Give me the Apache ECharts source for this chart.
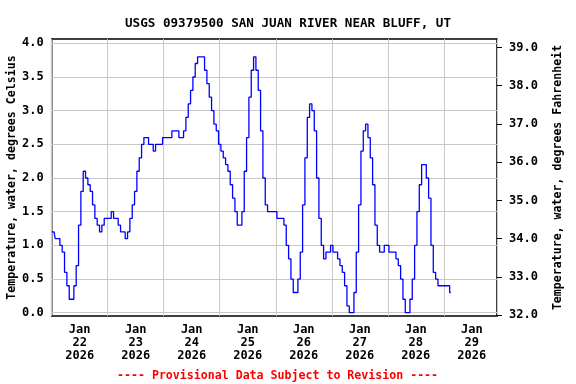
<!DOCTYPE html>
<html><head><meta charset="utf-8">
<script src="https://cdn.jsdelivr.net/npm/echarts@6/dist/echarts.min.js"></script>
<style>html,body{margin:0;padding:0;background:#fff}#c{width:576px;height:384px}</style>
</head><body><div id="c"></div>
<script>
const titleText = 'USGS 09379500 SAN JUAN RIVER NEAR BLUFF, UT';
const footerText = '---- Provisional Data Subject to Revision ----';
const leftName = 'Temperature, water, degrees Celsius';
const rightName = 'Temperature, water, degrees Fahrenheit';
const dayLabels = ['Jan\n22\n2026','Jan\n23\n2026','Jan\n24\n2026','Jan\n25\n2026','Jan\n26\n2026','Jan\n27\n2026','Jan\n28\n2026','Jan\n29\n2026'];
const celsiusTicks = [0, 0.5, 1, 1.5, 2, 2.5, 3, 3.5, 4];
const fahrenheitTicks = [32, 33, 34, 35, 36, 37, 38, 39];

// hourly water temperature (deg C), starting Jan 22 2026 00:00
const jan22 = [1.2,1.2,1.1,1.1,1.0,0.9,0.6,0.4,0.2,0.2,0.4,0.7,1.3,1.8,2.1,2.0,1.9,1.8,1.6,1.4,1.3,1.2,1.3,1.4];
const jan23 = [1.4,1.4,1.5,1.4,1.4,1.3,1.2,1.2,1.1,1.2,1.4,1.6,1.8,2.1,2.3,2.5,2.6,2.6,2.5,2.5,2.4,2.5,2.5,2.5];
const jan24 = [2.6,2.6,2.6,2.6,2.7,2.7,2.7,2.6,2.6,2.7,2.9,3.1,3.3,3.5,3.7,3.8,3.8,3.8,3.6,3.4,3.2,3.0,2.8,2.7];
const jan25 = [2.5,2.4,2.3,2.2,2.1,1.9,1.7,1.5,1.3,1.3,1.5,2.1,2.6,3.2,3.6,3.8,3.6,3.3,2.7,2.0,1.6,1.5,1.5,1.5];
const jan26 = [1.5,1.4,1.4,1.4,1.3,1.0,0.8,0.5,0.3,0.3,0.5,0.9,1.6,2.3,2.9,3.1,3.0,2.7,2.0,1.4,1.0,0.8,0.9,0.9];
const jan27 = [1.0,0.9,0.9,0.8,0.7,0.6,0.4,0.1,0.0,0.0,0.3,0.9,1.6,2.4,2.7,2.8,2.6,2.3,1.9,1.3,1.0,0.9,0.9,1.0];
const jan28 = [1.0,0.9,0.9,0.9,0.8,0.7,0.5,0.2,0.0,0.0,0.2,0.5,1.0,1.5,1.9,2.2,2.2,2.0,1.7,1.0,0.6,0.5,0.4,0.4];
const jan29 = [0.4,0.4,0.4,0.3];

const temps = [].concat(jan22, jan23, jan24, jan25, jan26, jan27, jan28, jan29);
const seriesData = temps.map((v, i) => [i, v]);

const FONT = 'DejaVu Sans Mono';
const chart = echarts.init(document.getElementById('c'), null, {renderer: 'canvas'});
chart.setOption({
  animation: false,
  backgroundColor: '#fff',
  title: [
    {text: titleText, left: 'center', top: 12,
     textStyle: {fontFamily: FONT, fontWeight: 'bold', fontSize: 12.6, color: '#000'}},
    {text: footerText, left: 112, top: 365,
     textStyle: {fontFamily: FONT, fontWeight: 'bold', fontSize: 11.6, color: '#ff0000'}}
  ],
  grid: {left: 51.7, right: 79, top: 39, bottom: 68, containLabel: false, outerBoundsMode: 'none',
    show: true, borderColor: '#000', borderWidth: 1.5, backgroundColor: 'transparent'},
  xAxis: {
    type: 'value', min: 0, max: 190.8, interval: 24,
    axisLine: {show: false}, axisTick: {show: false},
    splitLine: {show: true, lineStyle: {color: '#c8c8c8', width: 1}},
    axisLabel: {
      customValues: dayLabels.map((d, i) => i * 24 + 12),
      formatter: v => dayLabels[Math.round((v - 12) / 24)],
      fontFamily: FONT, fontWeight: 'bold', fontSize: 12, color: '#000',
      lineHeight: 13, margin: 7
    }
  },
  yAxis: [
    {
      type: 'value', min: -0.049, max: 4.064, position: 'left',
      name: leftName, nameLocation: 'middle', nameGap: 34, nameRotate: 90, nameMoveOverlap: false,
      nameTextStyle: {fontFamily: FONT, fontWeight: 'bold', fontSize: 11.6, color: '#000'},
      axisLine: {show: false},
      axisTick: {show: false, customValues: celsiusTicks},
      splitLine: {show: true, lineStyle: {color: '#c8c8c8', width: 1}},
      axisLabel: {customValues: celsiusTicks, formatter: v => v.toFixed(1),
        fontFamily: FONT, fontWeight: 'bold', fontSize: 12, color: '#000', margin: 8}
    },
    {
      type: 'value', min: 31.98, max: 39.22, position: 'right',
      name: rightName, nameLocation: 'middle', nameGap: 55, nameRotate: 90, nameMoveOverlap: false,
      nameTextStyle: {fontFamily: FONT, fontWeight: 'bold', fontSize: 11.6, color: '#000'},
      axisLine: {show: false},
      axisTick: {show: true, inside: false, length: 5, customValues: fahrenheitTicks, lineStyle: {color: '#000'}},
      splitLine: {show: false},
      axisLabel: {customValues: fahrenheitTicks, formatter: v => v.toFixed(1),
        fontFamily: FONT, fontWeight: 'bold', fontSize: 12, color: '#000', margin: 12}
    }
  ],
  series: [{
    type: 'line', yAxisIndex: 0, data: seriesData, step: 'middle',
    showSymbol: false, symbol: 'none',
    lineStyle: {color: '#0000ff', width: 1.3}
  }]
});
</script></body></html>
